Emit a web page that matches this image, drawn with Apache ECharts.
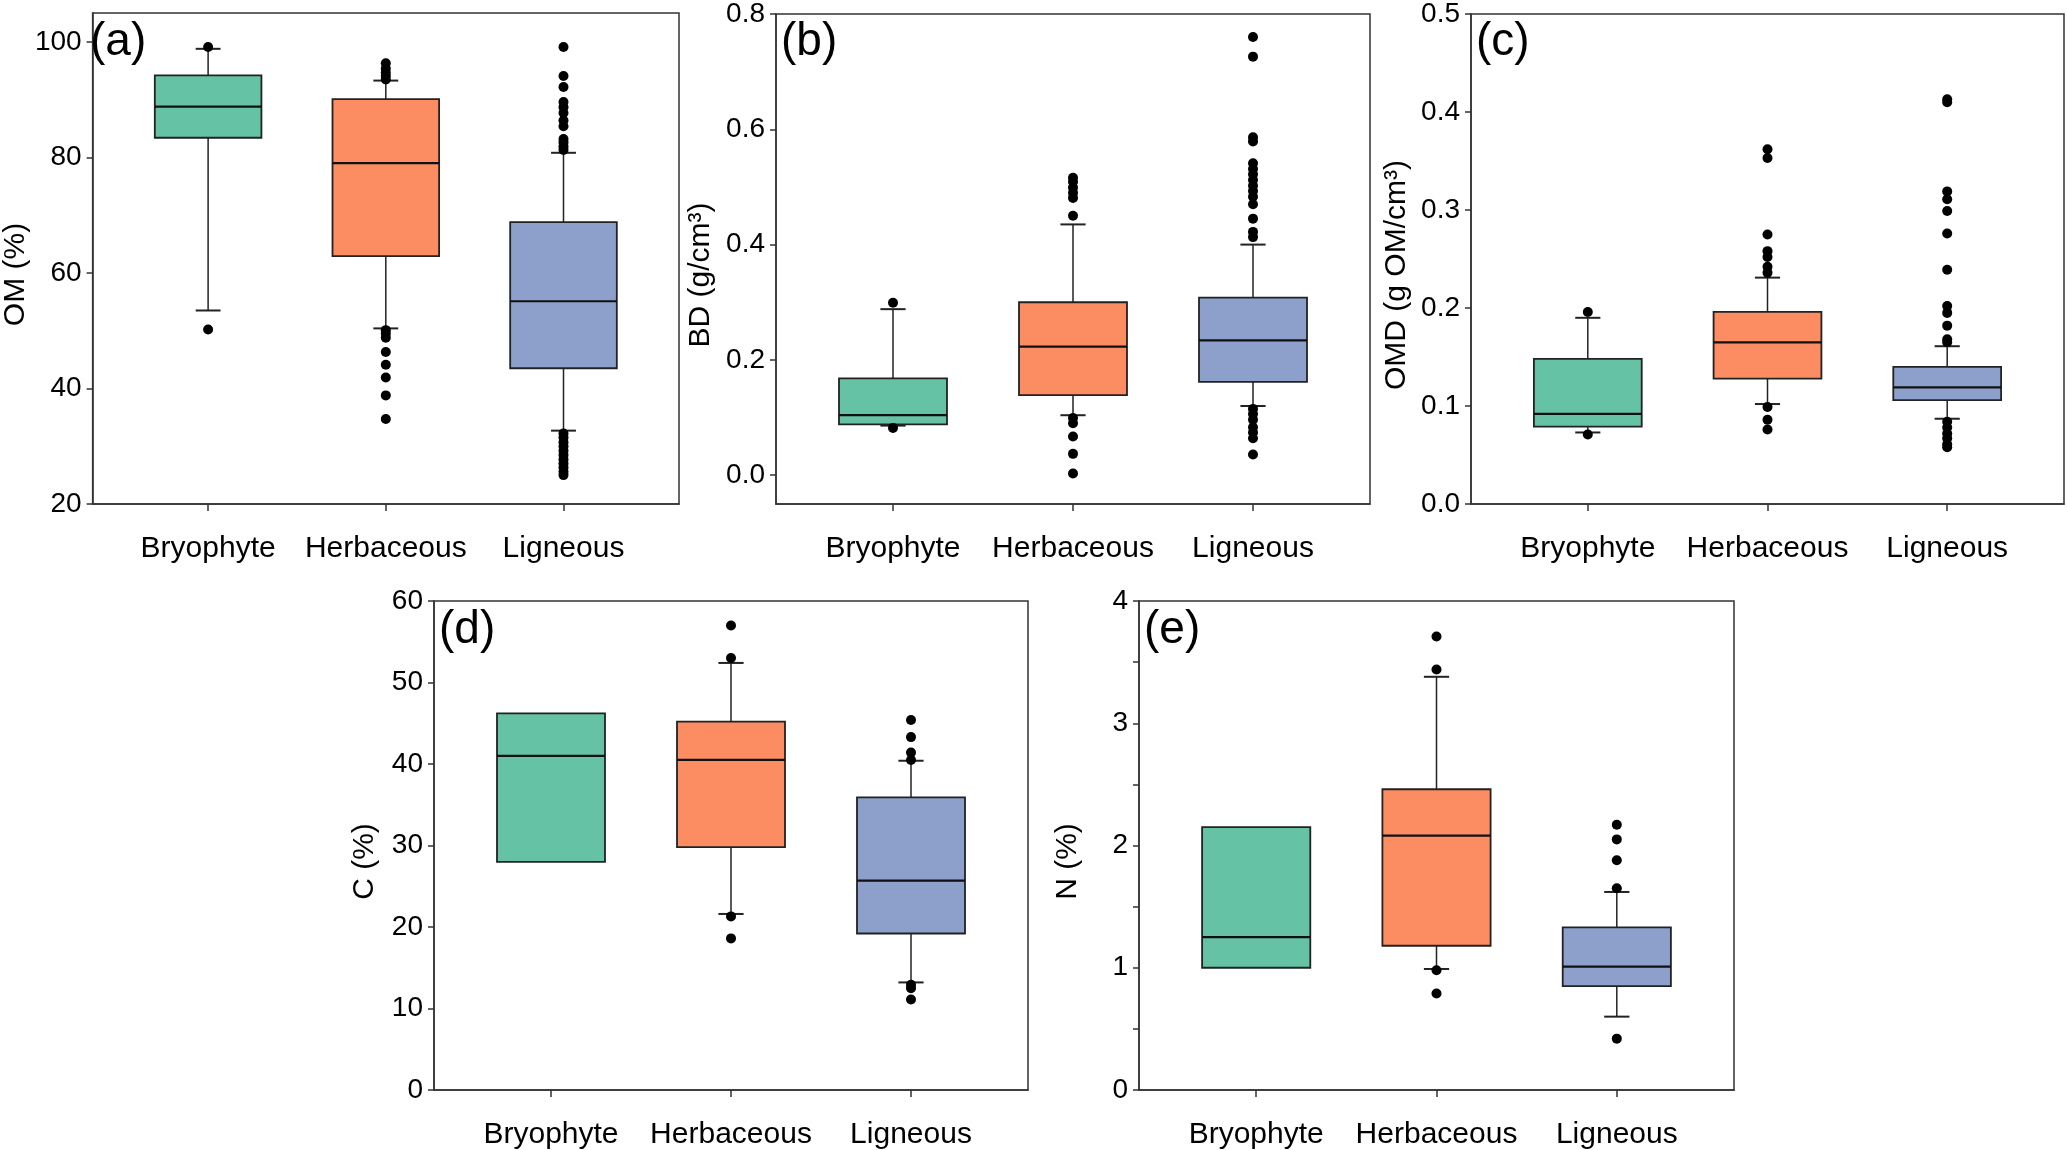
<!DOCTYPE html>
<html>
  <head>
    <meta charset="utf-8" />
    <title>Soil properties by vegetation type</title>
    <script src="https://cdn.jsdelivr.net/npm/echarts@6/dist/echarts.min.js"></script>
    <style>
      html, body { margin: 0; padding: 0; background: #fff; }
    </style>
  </head>
  <body>
    <div id="main" style="width: 2067px; height: 1150px"></div>
    <script type="text/javascript">
      var groups = ["Bryophyte", "Herbaceous", "Ligneous"];
      var groupColors = ["#66c2a5", "#fc8d62", "#8da0cb"];

      // each box: [lower whisker, Q1, median, Q3, upper whisker]
      var omBoxes = [
        [53.5, 83.4, 88.8, 94.2, 98.8],
        [50.4, 62.9, 79.0, 90.1, 93.3],
        [32.7, 43.5, 55.1, 68.8, 80.8]
      ];
      var omOutliers = [
        [99.1, 50.2],
        [96.3, 95.4, 94.7, 94.1, 93.5, 50.1, 49.5, 48.8, 46.3, 44.1, 41.9, 38.8, 34.7],
        [99.1, 94.1, 92.2, 89.6, 88.7, 87.7, 86.4, 85.4, 83.2, 82.6, 81.9, 81.3,
         32.2, 31.5, 30.7, 30.0, 29.2, 28.5, 27.7, 27.0, 26.3, 25.6, 25.0]
      ];
      var omTicks = [20, 40, 60, 80, 100];

      var bdBoxes = [
        [0.086, 0.088, 0.104, 0.168, 0.288],
        [0.104, 0.139, 0.223, 0.300, 0.435],
        [0.120, 0.162, 0.234, 0.308, 0.400]
      ];
      var bdOutliers = [
        [0.299, 0.082],
        [0.516, 0.509, 0.499, 0.490, 0.481, 0.450, 0.099, 0.090, 0.067, 0.037, 0.003],
        [0.760, 0.726, 0.586, 0.579, 0.541, 0.531, 0.522, 0.512, 0.502, 0.493, 0.483,
         0.470, 0.445, 0.422, 0.413, 0.115, 0.106, 0.096, 0.083, 0.074, 0.064, 0.036]
      ];
      var bdTicks = [0, 0.2, 0.4, 0.6, 0.8];

      var omdBoxes = [
        [0.073, 0.079, 0.092, 0.148, 0.190],
        [0.102, 0.128, 0.165, 0.196, 0.231],
        [0.087, 0.106, 0.119, 0.140, 0.161]
      ];
      var omdOutliers = [
        [0.196, 0.071],
        [0.362, 0.353, 0.275, 0.258, 0.252, 0.242, 0.236, 0.099, 0.086, 0.076],
        [0.413, 0.410, 0.319, 0.311, 0.299, 0.276, 0.239, 0.202, 0.195, 0.182, 0.168,
         0.165, 0.084, 0.078, 0.072, 0.067, 0.061, 0.058]
      ];
      var omdTicks = [0, 0.1, 0.2, 0.3, 0.4, 0.5];

      var cBoxes = [
        [28.0, 28.0, 41.0, 46.2, 46.2],
        [21.6, 29.8, 40.5, 45.2, 52.4],
        [13.2, 19.2, 25.7, 35.9, 40.4]
      ];
      var cOutliers = [
        [],
        [57.0, 53.0, 21.3, 18.6],
        [45.4, 43.3, 41.4, 40.5, 12.9, 12.5, 11.1]
      ];
      var cTicks = [0, 10, 20, 30, 40, 50, 60];

      var nBoxes = [
        [1.00, 1.00, 1.25, 2.15, 2.15],
        [0.99, 1.18, 2.08, 2.46, 3.38],
        [0.60, 0.85, 1.01, 1.33, 1.62]
      ];
      var nOutliers = [
        [],
        [3.71, 3.44, 0.98, 0.79],
        [2.17, 2.05, 1.88, 1.65, 0.42]
      ];
      var nTicks = [0, 1, 2, 3, 4];
      var nTickMarks = [0, 0.5, 1, 1.5, 2, 2.5, 3, 3.5, 4];

      var panels = [
        { tag: "(a)", name: "OM (%)", min: 20, max: 105, labels: omTicks, marks: omTicks, digits: 0, boxes: omBoxes, outliers: omOutliers },
        { tag: "(b)", name: "BD (g/cm³)", min: -0.05, max: 0.8, labels: bdTicks, marks: bdTicks, digits: 1, boxes: bdBoxes, outliers: bdOutliers },
        { tag: "(c)", name: "OMD (g OM/cm³)", min: 0, max: 0.5, labels: omdTicks, marks: omdTicks, digits: 1, boxes: omdBoxes, outliers: omdOutliers },
        { tag: "(d)", name: "C (%)", min: 0, max: 60, labels: cTicks, marks: cTicks, digits: 0, boxes: cBoxes, outliers: cOutliers },
        { tag: "(e)", name: "N (%)", min: 0, max: 4, labels: nTicks, marks: nTickMarks, digits: 0, boxes: nBoxes, outliers: nOutliers }
      ];

      // plot rectangles and y-title gaps
      var layout = [
        { left: 85, top: 13, width: 594, height: 491, gap: 56 },
        { left: 776, top: 13, width: 594, height: 491, gap: 60 },
        { left: 1471, top: 13, width: 593, height: 491, gap: 59 },
        { left: 434, top: 601, width: 594, height: 491, gap: 54 },
        { left: 1139, top: 601, width: 595, height: 491, gap: 56 }
      ];

      var FONT = "Liberation Sans, Arial, sans-serif";
      var INK = "#222";

      var myChart = echarts.init(document.getElementById("main"), null, { renderer: "canvas" });

      function renderBox(params, api) {
        var i = api.value(0);
        var x = api.coord([i, 0])[0];
        var yOf = function (k) { return api.coord([i, api.value(k)])[1]; };
        var yMin = yOf(1), yQ1 = yOf(2), yMed = yOf(3), yQ3 = yOf(4), yMax = yOf(5);
        var half = api.size([0.6, 0])[0] / 2;
        var cap = api.size([0.14, 0])[0] / 2;
        var line = { stroke: INK, lineWidth: 1.5 };
        var kids = [];
        if (api.value(5) > api.value(4)) {
          kids.push({ type: "line", shape: { x1: x, y1: yQ3, x2: x, y2: yMax }, style: line });
          kids.push({ type: "line", shape: { x1: x - cap, y1: yMax, x2: x + cap, y2: yMax }, style: { stroke: INK, lineWidth: 2 } });
        }
        if (api.value(1) < api.value(2)) {
          kids.push({ type: "line", shape: { x1: x, y1: yQ1, x2: x, y2: yMin }, style: line });
          kids.push({ type: "line", shape: { x1: x - cap, y1: yMin, x2: x + cap, y2: yMin }, style: { stroke: INK, lineWidth: 2 } });
        }
        kids.push({
          type: "rect",
          shape: { x: x - half, y: yQ3, width: half * 2, height: yQ1 - yQ3 },
          style: { fill: groupColors[i], stroke: INK, lineWidth: 1.8 }
        });
        kids.push({ type: "line", shape: { x1: x - half, y1: yMed, x2: x + half, y2: yMed }, style: { stroke: "#111", lineWidth: 2.2 } });
        return { type: "group", children: kids };
      }

      var option = {
        animation: false,
        backgroundColor: "#fff",
        textStyle: { fontFamily: FONT, color: "#000" },
        title: [],
        grid: [],
        xAxis: [],
        yAxis: [],
        series: []
      };

      panels.forEach(function (p, k) {
        var g = layout[k];
        option.title.push({
          text: p.tag,
          left: g.left + 5,
          top: g.top + 6,
          padding: 0,
          textStyle: { fontFamily: FONT, fontSize: 46, fontWeight: "normal", color: "#000" }
        });
        option.grid.push({
          left: g.left, top: g.top, width: g.width, height: g.height,
          show: true, borderColor: "#333", borderWidth: 1.5, backgroundColor: "transparent"
        });
        option.xAxis.push({
          type: "value",
          gridIndex: k,
          min: -0.65,
          max: 2.65,
          splitLine: { show: false },
          axisLine: { onZero: false, lineStyle: { color: "#333", width: 1.5 } },
          axisTick: { show: true, customValues: [0, 1, 2], length: 7, lineStyle: { color: "#333", width: 1.5 } },
          axisLabel: {
            customValues: [0, 1, 2],
            margin: 30,
            fontSize: 30,
            fontFamily: FONT,
            color: "#000",
            formatter: function (v) { return groups[Math.round(v)]; }
          }
        });
        option.yAxis.push({
          type: "value",
          gridIndex: k,
          min: p.min,
          max: p.max,
          name: p.name,
          nameLocation: "middle",
          nameGap: g.gap,
          nameTextStyle: { fontSize: 30, fontFamily: FONT, color: "#000", padding: [0, 32, 0, 0] },
          splitLine: { show: false },
          axisLine: { show: true, onZero: false, lineStyle: { color: "#333", width: 1.5 } },
          axisTick: { show: true, customValues: p.marks, length: 6, lineStyle: { color: "#333", width: 1.5 } },
          axisLabel: {
            customValues: p.labels,
            margin: 11,
            fontSize: 28,
            fontFamily: FONT,
            color: "#000",
            formatter: (function (d) { return function (v) { return v.toFixed(d); }; })(p.digits)
          }
        });
        option.series.push({
          type: "custom",
          xAxisIndex: k,
          yAxisIndex: k,
          renderItem: renderBox,
          encode: { x: 0, y: [1, 2, 3, 4, 5] },
          data: p.boxes.map(function (b, i) { return [i].concat(b); }),
          z: 2
        });
        var pts = [];
        p.outliers.forEach(function (arr, i) {
          arr.forEach(function (v) { pts.push([i, v]); });
        });
        option.series.push({
          type: "scatter",
          xAxisIndex: k,
          yAxisIndex: k,
          symbol: "circle",
          symbolSize: 10,
          itemStyle: { color: "#000", opacity: 1 },
          data: pts,
          z: 3
        });
      });

      myChart.setOption(option);
    </script>
  </body>
</html>
